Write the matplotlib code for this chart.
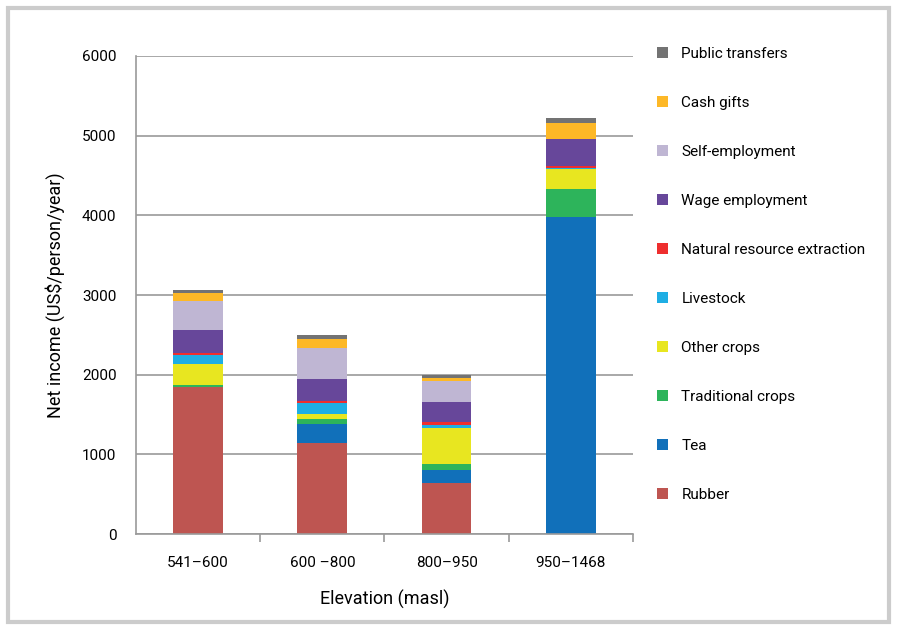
import numpy as np
import matplotlib.pyplot as plt
from matplotlib.patches import Rectangle, Patch

plt.rcParams['font.family'] = ['Roboto', 'DejaVu Sans']

# elevation classes
categories = ['541\u2013600', '600 \u2013800', '800\u2013950', '950\u20131468']

# income sources (bottom to top) and values
sources = ['Rubber', 'Tea', 'Traditional crops', 'Other crops', 'Livestock',
           'Natural resource extraction', 'Wage employment', 'Self-employment',
           'Cash gifts', 'Public transfers']
rubber = [1849, 1138, 636, 5]
tea = [0, 247, 171, 3978]
traditional = [21, 62, 72, 347]
other_crops = [264, 59, 455, 251]
livestock = [109, 134, 34, 13]
natural = [25, 29, 34, 25]
wage = [297, 272, 259, 343]
self_emp = [356, 390, 259, 0]
cash_gifts = [108, 121, 42, 193]
public = [34, 50, 30, 67]

colors = ['#BE5551', '#1170BA', '#2DB45B', '#E8E620', '#1EAEE4',
          '#EE2E2E', '#67479A', '#BFB6D3', '#FDB827', '#737373']

series = [rubber, tea, traditional, other_crops, livestock, natural,
          wage, self_emp, cash_gifts, public]

fig = plt.figure(figsize=(8.97, 6.29), dpi=100)
ax = fig.add_axes([0.1516, 0.151, 0.554, 0.760])

x = np.arange(len(categories))
bottom = np.zeros(len(categories))
for vals, col, name in zip(series, colors, sources):
    ax.bar(x, vals, bottom=bottom, width=0.4, color=col, label=name, linewidth=0)
    bottom += np.array(vals)

ax.set_xlim(-0.5, 3.5)
ax.set_ylim(0, 6000)
ax.set_yticks(np.arange(0, 6001, 1000))
ax.set_yticklabels([str(v) for v in range(0, 6001, 1000)], fontsize=11)
ax.yaxis.grid(True, color='#9A9A9A', linewidth=1.2)
ax.set_axisbelow(True)
ax.tick_params(axis='y', length=0, pad=14)

ax.set_xticks(x)
ax.set_xticklabels(categories, fontsize=11)
ax.set_xticks(np.arange(0.5, 4, 1), minor=True)
ax.tick_params(axis='x', which='major', length=0, pad=16)
ax.tick_params(axis='x', which='minor', length=6, color='#9A9A9A', width=1.2, direction='out')

for s in ['top', 'right']:
    ax.spines[s].set_visible(False)
ax.spines['left'].set_color('#9A9A9A')
ax.spines['bottom'].set_color('#9A9A9A')
ax.spines['left'].set_linewidth(1.2)
ax.spines['bottom'].set_linewidth(1.2)

ax.set_ylabel('Net income (US$/person/year)', fontsize=13, labelpad=12)
ax.set_xlabel('Elevation (masl)', fontsize=13, labelpad=14)

handles = [Patch(facecolor=c, label=n) for c, n in zip(colors, sources)][::-1]
fig.legend(handles=handles, loc='upper left', bbox_to_anchor=(0.717, 0.947),
           frameon=False, fontsize=11, handlelength=0.7, handleheight=0.7,
           labelspacing=2.29, handletextpad=0.9)

fig.patches.append(Rectangle((0.009, 0.011), 0.982, 0.976, transform=fig.transFigure,
                             fill=False, edgecolor='#CCCCCC', linewidth=3))

fig.savefig('out.png', dpi=100)
